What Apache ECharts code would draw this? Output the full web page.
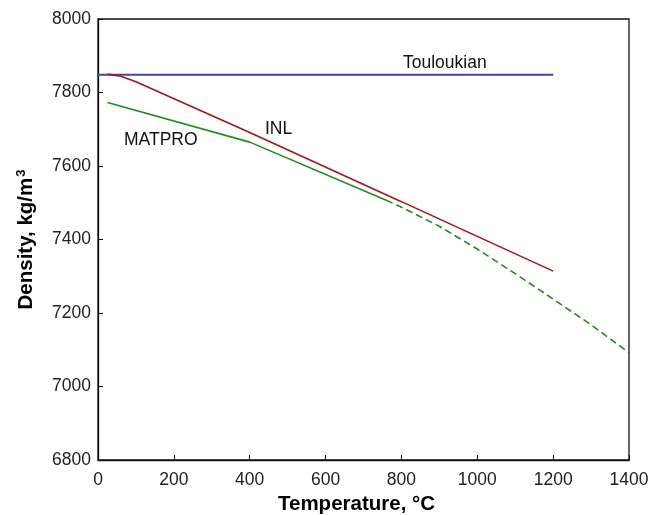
<!DOCTYPE html>
<html><head><meta charset="utf-8">
<script src="https://cdn.jsdelivr.net/npm/echarts@6/dist/echarts.min.js"></script>
<style>html,body{margin:0;padding:0;background:#fff}#c{width:666px;height:515px}</style>
</head><body><div id="c"></div>
<script>
const xTicks = [0, 200, 400, 600, 800, 1000, 1200, 1400];
const yTicks = [6800, 7000, 7200, 7400, 7600, 7800, 8000];
const touloukian = [[0, 7848], [1200, 7848]];
const inl = [[25, 7850], [60, 7844], [100, 7829], [400, 7691], [800, 7503], [1200, 7314]];
const matproSolid = [[25, 7773], [400, 7665], [760, 7507]];
const matproDashed = [[760, 7507], [800, 7488], [900, 7436], [1000, 7374], [1100, 7307], [1200, 7238], [1300, 7168], [1400, 7092]];

const font = 'Liberation Sans, Arial, sans-serif';
const chart = echarts.init(document.getElementById('c'), null, {renderer: 'canvas'});
chart.setOption({
  animation: false,
  grid: {left: 98, top: 19, width: 531, height: 441, show: true, borderColor: '#111', borderWidth: 1.3,
    backgroundColor: 'transparent', containLabel: false, outerBoundsMode: 'none'},
  xAxis: {
    type: 'value', min: 0, max: 1400, interval: 200,
    name: 'Temperature, °C', nameLocation: 'middle', nameGap: 31,
    nameTextStyle: {fontFamily: font, fontSize: 20.5, fontWeight: 'bold', color: '#000', padding: [0, 14, 0, 0]},
    axisLine: {show: true, lineStyle: {color: '#111', width: 1.3}},
    axisTick: {show: true, inside: true, length: 5, lineStyle: {color: '#111'}},
    axisLabel: {fontFamily: font, fontSize: 17.5, color: '#222', margin: 11, formatter: v => String(v)},
    splitLine: {show: false}
  },
  yAxis: {
    type: 'value', min: 6800, max: 8000, interval: 200,
    name: 'Density, kg/m{sup|3}', nameLocation: 'middle', nameGap: 60,
    nameTextStyle: {fontFamily: font, fontSize: 20.5, fontWeight: 'bold', color: '#000',
      rich: {sup: {fontFamily: font, fontSize: 13, fontWeight: 'bold', color: '#000', verticalAlign: 'top', padding: [0, 0, 10, 1]}}},
    axisLine: {show: true, lineStyle: {color: '#111', width: 1.3}},
    axisTick: {show: true, inside: true, length: 5, lineStyle: {color: '#111'}},
    axisLabel: {fontFamily: font, fontSize: 17.5, color: '#222', margin: 7, formatter: v => String(v)},
    splitLine: {show: false}
  },
  series: [
    {type: 'line', data: touloukian, symbol: 'none', lineStyle: {color: '#4343b0', width: 2}},
    {type: 'line', data: inl, symbol: 'none', lineStyle: {color: '#a3161a', width: 1.6}},
    {type: 'line', data: matproSolid, symbol: 'none', lineStyle: {color: '#1b8f1b', width: 1.6}},
    {type: 'line', data: matproDashed, symbol: 'none', lineStyle: {color: '#1b8f1b', width: 1.6, type: [7, 4]}}
  ],
  graphic: [
    {type: 'text', left: 403, top: 54, style: {text: 'Touloukian', font: '17.5px ' + font, fill: '#111'}},
    {type: 'text', left: 265, top: 120, style: {text: 'INL', font: '17.5px ' + font, fill: '#111'}},
    {type: 'text', left: 124, top: 131, style: {text: 'MATPRO', font: '17.5px ' + font, fill: '#111'}}
  ]
});
</script></body></html>
